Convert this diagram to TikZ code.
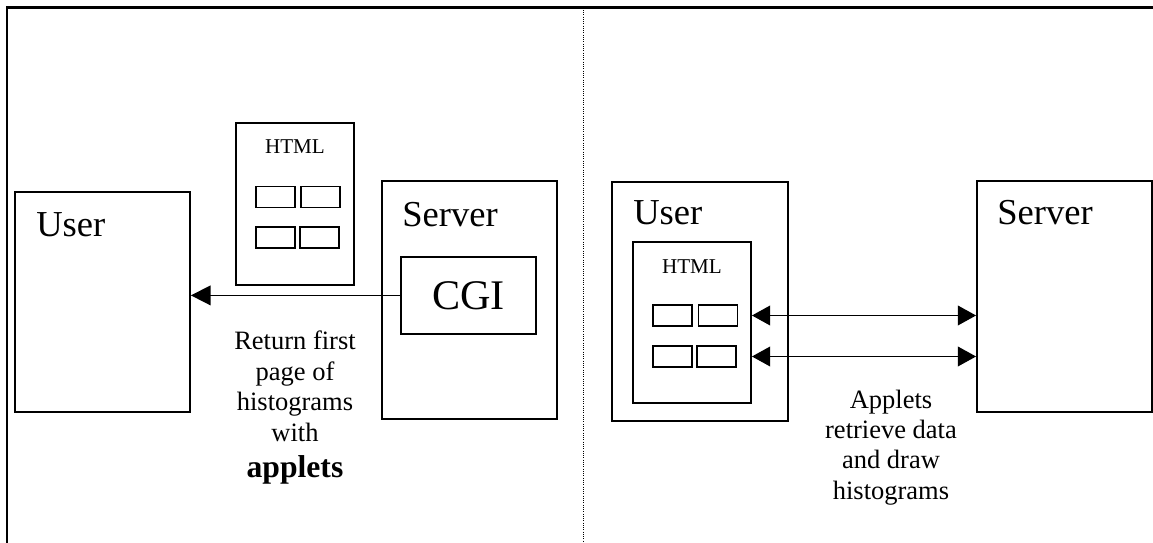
\documentclass[tikz,border=0pt]{standalone}
\usepackage{fontspec}
\setmainfont{Liberation Serif}
\usetikzlibrary{arrows.meta}

\begin{document}
\begin{tikzpicture}
\tikzstyle{box}=[draw, line width=1.3pt, inner sep=0pt]
\tikzstyle{title}=[anchor=west, inner sep=0pt, font=\fontsize{26}{30}\selectfont]
\tikzstyle{page}=[draw, line width=1.3pt, minimum width=2.95cm, minimum height=4.05cm]
\tikzstyle{pagetitle}=[inner sep=0pt, font=\fontsize{15}{18}\selectfont]
\tikzstyle{slot}=[draw, line width=1.2pt, minimum width=0.975cm, minimum height=0.52cm]
\tikzstyle{note}=[align=center, anchor=north, inner sep=0pt, font=\fontsize{18.85}{21.6}\selectfont]
\tikzstyle{oneway}=[-{Triangle[length=14pt, width=14pt]}, line width=1.2pt]
\tikzstyle{twoway}=[{Triangle[length=13pt, width=14pt]}-{Triangle[length=13pt, width=14pt]}, line width=1.2pt]

\useasboundingbox (0,0) rectangle (28.825,13.575);

% frame and divider
\coordinate (fbot) at (0.175,0);
\coordinate (ftop) at (0.175,13.385);
\coordinate (fend) at (28.825,13.385);
\coordinate (dtop) at (14.575,13.385);
\coordinate (dbot) at (14.575,0);
\draw[line width=1.6pt] (fbot) -- (ftop) -- (fend);
\draw[densely dotted, line width=0.6pt] (dtop) -- (dbot);

% left half
\draw (2.5625,6.025) node[box, minimum width=4.375cm, minimum height=5.5cm] (userA) {};
\draw (0.9,7.95) node[title] (userAtxt) {User};
\draw (7.375,8.475) node[page] (htmlA) {};
\draw (7.375,9.9) node[pagetitle] (htmlAtxt) {HTML};
\draw (6.89,8.65) node[slot] (slotA1) {};
\draw (8.01,8.65) node[slot] (slotA2) {};
\draw (6.89,7.64) node[slot] (slotA3) {};
\draw (7.99,7.64) node[slot] (slotA4) {};
\draw (11.74,6.075) node[box, minimum width=4.375cm, minimum height=5.95cm] (serverA) {};
\draw (10.05,8.2) node[title] (serverAtxt) {Server};
\draw (11.71,6.19) node[box, minimum width=3.375cm, minimum height=1.925cm, font=\fontsize{30}{36}\selectfont] (cgi) {CGI};

\draw[oneway] (cgi.west) -- (cgi.west -| userA.east);
\draw (7.375,5.3) node[note] (retnote) {Return first\\page of\\histograms\\with\\[4pt]{\fontsize{22.5}{26}\selectfont\bfseries applets}};

% right half
\draw (17.5,6.0375) node[box, minimum width=4.4cm, minimum height=5.975cm] (userB) {};
\draw (15.825,8.25) node[title] (userBtxt) {User};
\draw (17.3,5.5125) node[page, minimum height=4.025cm] (htmlB) {};
\draw (17.3,6.9) node[pagetitle] (htmlBtxt) {HTML};
\draw (16.81,5.6875) node[slot] (slotB1) {};
\draw (17.95,5.6875) node[slot] (slotB2) {};
\draw (16.81,4.6625) node[slot] (slotB3) {};
\draw (17.91,4.6625) node[slot] (slotB4) {};
\draw (26.6125,6.1625) node[box, minimum width=4.375cm, minimum height=5.775cm] (serverB) {};
\draw (24.925,8.25) node[title] (serverBtxt) {Server};

\draw[twoway] (htmlB.east |- slotB2) -- (serverB.west |- slotB2);
\draw[twoway] (htmlB.east |- slotB4) -- (serverB.west |- slotB4);
\draw (22.275,3.84) node[note] (appnote) {Applets\\retrieve data\\and draw\\histograms};
\end{tikzpicture}
\end{document}
